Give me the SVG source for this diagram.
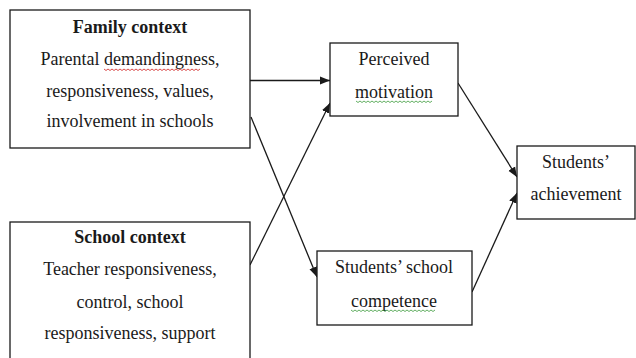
<svg xmlns="http://www.w3.org/2000/svg" width="636" height="358" viewBox="0 0 636 358">
<defs>
<style>
.box{fill:#fff;stroke:#1a1a1a;stroke-width:1.3}
.t{font-family:"Liberation Serif","Times New Roman",serif;font-size:18px;fill:#1a1a1a;text-anchor:middle}
.b{font-weight:bold}
.edge{stroke:#1a1a1a;stroke-width:1.3;fill:none;marker-end:url(#ah)}
.red{stroke:#d02020;stroke-width:0.8;fill:none}
.grn{stroke:#3a9a3a;stroke-width:0.8;fill:none}
</style>
<marker id="ah" viewBox="0 0 10 10" refX="10" refY="5" markerWidth="10" markerHeight="10" markerUnits="userSpaceOnUse" orient="auto">
<path d="M0,1 L10,5 L0,9 Z" fill="#1a1a1a"/>
</marker>
</defs>
<rect width="636" height="358" fill="#fff"/>
<g id="connectors">
<line class="edge" x1="250" y1="80.5" x2="330" y2="80.5"/>
<line class="edge" x1="251" y1="117" x2="317" y2="277"/>
<line class="edge" x1="250" y1="265" x2="330" y2="103"/>
<line class="edge" x1="458" y1="83" x2="517" y2="177"/>
<line class="edge" x1="472" y1="292" x2="517" y2="193"/>
</g>
<g id="family">
<rect class="box" x="10" y="10" width="240" height="138"/>
<text class="t b" x="130" y="33">Family context</text>
<text class="t" x="130" y="65">Parental demandingness,</text>
<text class="t" x="130" y="97">responsiveness, values,</text>
<text class="t" x="130" y="127">involvement in schools</text>
<path class="red" d="M104,69 l2,1.5 l2,-1.5 l2,1.5 l2,-1.5 l2,1.5 l2,-1.5 l2,1.5 l2,-1.5 l2,1.5 l2,-1.5 l2,1.5 l2,-1.5 l2,1.5 l2,-1.5 l2,1.5 l2,-1.5 l2,1.5 l2,-1.5 l2,1.5 l2,-1.5 l2,1.5 l2,-1.5 l2,1.5 l2,-1.5 l2,1.5 l2,-1.5 l2,1.5 l2,-1.5 l2,1.5 l2,-1.5 l2,1.5 l2,-1.5 l2,1.5 l2,-1.5 l2,1.5 l2,-1.5 l2,1.5 l2,-1.5 l2,1.5 l2,-1.5 l2,1.5 l2,-1.5 l2,1.5 l2,-1.5 l2,1.5 l2,-1.5 l2,1.5 l2,-1.5"/>
</g>
<g id="school">
<rect class="box" x="10" y="222" width="240" height="145"/>
<text class="t b" x="130" y="243">School context</text>
<text class="t" x="130" y="275">Teacher responsiveness,</text>
<text class="t" x="130" y="308">control, school</text>
<text class="t" x="130" y="339">responsiveness, support</text>
</g>
<g id="perceived">
<rect class="box" x="330" y="43" width="128" height="73"/>
<text class="t" x="394" y="65">Perceived</text>
<text class="t" x="394" y="98">motivation</text>
<path class="grn" d="M356,101 l2,1.5 l2,-1.5 l2,1.5 l2,-1.5 l2,1.5 l2,-1.5 l2,1.5 l2,-1.5 l2,1.5 l2,-1.5 l2,1.5 l2,-1.5 l2,1.5 l2,-1.5 l2,1.5 l2,-1.5 l2,1.5 l2,-1.5 l2,1.5 l2,-1.5 l2,1.5 l2,-1.5 l2,1.5 l2,-1.5 l2,1.5 l2,-1.5 l2,1.5 l2,-1.5 l2,1.5 l2,-1.5 l2,1.5 l2,-1.5 l2,1.5 l2,-1.5 l2,1.5 l2,-1.5 l2,1.5 l2,-1.5"/>
</g>
<g id="competence">
<rect class="box" x="317" y="251" width="155" height="74"/>
<text class="t" x="394" y="273">Students’ school</text>
<text class="t" x="394" y="307">competence</text>
<path class="grn" d="M351,310 l2,1.5 l2,-1.5 l2,1.5 l2,-1.5 l2,1.5 l2,-1.5 l2,1.5 l2,-1.5 l2,1.5 l2,-1.5 l2,1.5 l2,-1.5 l2,1.5 l2,-1.5 l2,1.5 l2,-1.5 l2,1.5 l2,-1.5 l2,1.5 l2,-1.5 l2,1.5 l2,-1.5 l2,1.5 l2,-1.5 l2,1.5 l2,-1.5 l2,1.5 l2,-1.5 l2,1.5 l2,-1.5 l2,1.5 l2,-1.5 l2,1.5 l2,-1.5 l2,1.5 l2,-1.5 l2,1.5 l2,-1.5 l2,1.5 l2,-1.5 l2,1.5 l2,-1.5"/>
</g>
<g id="achievement">
<rect class="box" x="517" y="146" width="118" height="73"/>
<text class="t" x="576" y="168">Students’</text>
<text class="t" x="576" y="200">achievement</text>
</g>
</svg>
